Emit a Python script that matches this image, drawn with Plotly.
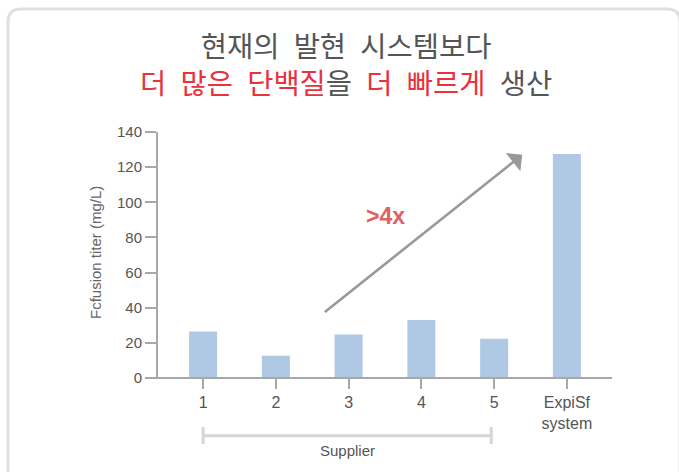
import plotly.graph_objects as go

# ---- data ----
categories = ["1", "2", "3", "4", "5", "ExpiSf<br>system"]
titer_values = [26.5, 12.7, 24.7, 33.0, 22.4, 127.5]
y_ticks = [0, 20, 40, 60, 80, 100, 120, 140]

title_line1 = "현재의 발현 시스템보다"
y_title = "Fcfusion titer (mg/L)"
group_label = "Supplier"
fold_label = ">4x"

# ---- layout geometry (pixels) ----
W, H = 679, 472
L, R, T, B = 158, 67, 132, 94
PW, PH = W - L - R, H - T - B


def px(x):
    return (x - L) / PW


def py(y):
    return (H - B - y) / PH


RED = "#e8323c"
GRAY_TXT = "#555555"
AXIS = "#a8a8a8"
LATIN = "Liberation Sans, Arial, sans-serif"
KOR = "Noto Sans CJK KR, sans-serif"
SP = "\u2002"  # wider word space like the reference typeface

fig = go.Figure(
    go.Bar(
        x=categories,
        y=titer_values,
        width=0.385,
        marker=dict(color="#afc9e4", line=dict(width=0)),
        hoverinfo="skip",
    )
)

# card border (rounded rectangle)
x0, y0, x1, y1, r = 8, 9, 680, 472, 13
path = (
    f"M {px(x0)} {py(y1 + 5)} L {px(x0)} {py(y0 + r)} "
    f"Q {px(x0)} {py(y0)} {px(x0 + r)} {py(y0)} "
    f"L {px(x1 - r)} {py(y0)} Q {px(x1)} {py(y0)} {px(x1)} {py(y0 + r)} "
    f"L {px(x1)} {py(y1 + 5)}"
)
shapes = [
    dict(type="path", xref="paper", yref="paper", path=path,
         line=dict(color="#e0e0e0", width=3), layer="below"),
    # x axis line extending under the y ticks
    dict(type="line", xref="paper", yref="paper", x0=px(146), x1=px(612), y0=0, y1=0,
         line=dict(color=AXIS, width=2)),
    # supplier bracket
    dict(type="line", xref="x", yref="paper", x0=0, x1=3.96, y0=py(435.7), y1=py(435.7),
         line=dict(color="#d6d6d6", width=3)),
    dict(type="line", xref="x", yref="paper", x0=0, x1=0, y0=py(427), y1=py(444),
         line=dict(color="#d6d6d6", width=3)),
    dict(type="line", xref="x", yref="paper", x0=3.96, x1=3.96, y0=py(427), y1=py(444),
         line=dict(color="#d6d6d6", width=3)),
]

line1 = f"<span style='color:{GRAY_TXT}'>{title_line1.replace(' ', SP)}</span>"
line2 = (
    f"<span style='color:{RED}'>더{SP}많은{SP}단백질</span>"
    f"<span style='color:{GRAY_TXT}'>을</span>"
    f"<span style='color:{RED}'>{SP}더{SP}빠르게</span>"
    f"<span style='color:{GRAY_TXT}'>{SP}생산</span>"
)

annotations = [
    dict(text=line1 + "<br>" + line2, xref="paper", yref="paper", x=px(346), y=py(63),
         xanchor="center", yanchor="middle", showarrow=False, align="center",
         font=dict(family=KOR, size=28.5, color=GRAY_TXT)),
    dict(text=y_title, xref="paper", yref="paper", x=px(95), y=py(253),
         xanchor="center", yanchor="middle", showarrow=False, textangle=-90,
         font=dict(family=LATIN, size=15, color="#666666")),
    dict(text=group_label, xref="paper", yref="paper", x=px(347), y=py(450),
         xanchor="center", yanchor="middle", showarrow=False,
         font=dict(family=LATIN, size=15, color=GRAY_TXT)),
    # growth arrow
    dict(x=4.386, y=127.0, ax=1.653, ay=36.9, xref="x", yref="y", axref="x", ayref="y",
         text="", showarrow=True, arrowhead=1, arrowsize=1.5, arrowwidth=2.6,
         arrowcolor="#999999"),
    dict(text=f"<b>{fold_label}</b>", x=2.504, y=92.2, xref="x", yref="y",
         showarrow=False, xanchor="center", yanchor="middle",
         font=dict(family=LATIN, size=23, color="#e06265")),
]

fig.update_layout(
    width=W, height=H,
    margin=dict(l=L, r=R, t=T, b=B, pad=0),
    paper_bgcolor="white", plot_bgcolor="white",
    showlegend=False,
    shapes=shapes,
    annotations=annotations,
    xaxis=dict(
        type="category", range=[-0.62, 5.62], showline=False, showgrid=False,
        zeroline=False, ticks="outside", ticklen=10, tickwidth=2, tickcolor=AXIS,
        tickfont=dict(family=LATIN, size=16, color=GRAY_TXT), fixedrange=True,
    ),
    yaxis=dict(
        range=[0, 140], tickvals=y_ticks, showline=True, linecolor=AXIS, linewidth=2,
        showgrid=False, zeroline=False, ticks="outside", ticklen=11, tickwidth=2,
        tickcolor=AXIS, tickfont=dict(family=LATIN, size=15, color=GRAY_TXT),
        fixedrange=True,
    ),
)

fig.write_html(
    "out.html",
    config={"displayModeBar": False},
    post_script="document.body.style.margin='0';document.body.style.overflow='hidden';",
)
